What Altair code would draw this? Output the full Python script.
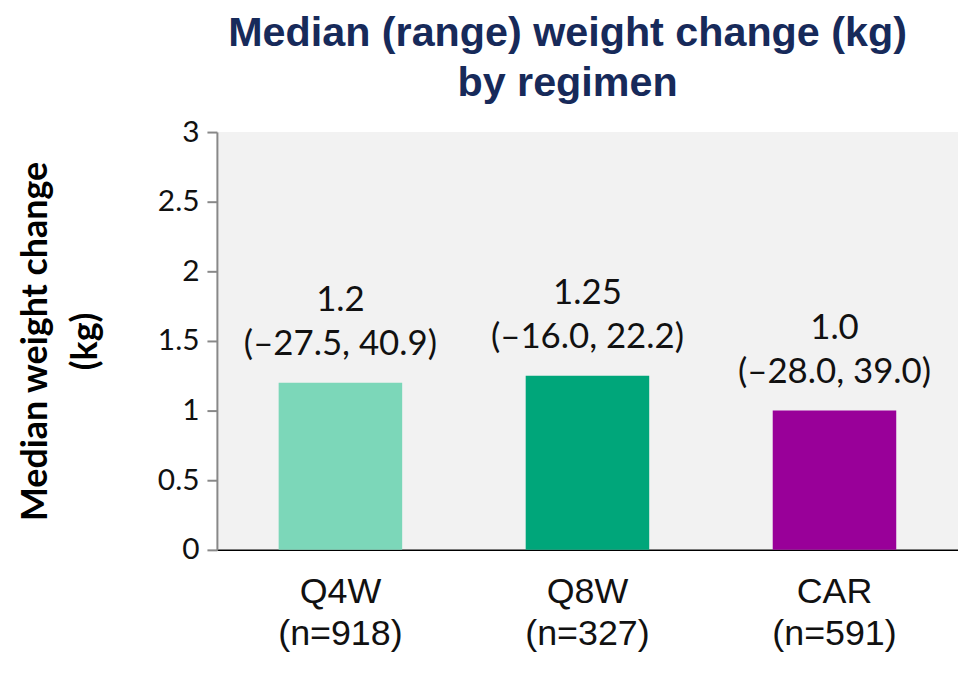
import altair as alt
import pandas as pd

regimens = ["Q4W", "Q8W", "CAR"]
x_labels = ["Q4W|(n=918)", "Q8W|(n=327)", "CAR|(n=591)"]
medians = [1.2, 1.25, 1.0]
median_text = ["1.2", "1.25", "1.0"]
range_text = ["(\u201327.5, 40.9)", "(\u201316.0, 22.2)", "(\u201328.0, 39.0)"]
colors = ["#7cd7b9", "#00a67a", "#990099"]
y_ticks = [0, 0.5, 1, 1.5, 2, 2.5, 3]

df = pd.DataFrame({
    "group": x_labels,
    "median": medians,
    "mtext": median_text,
    "rtext": range_text,
    "color": colors,
})

x = alt.X("group:N", sort=x_labels, title=None,
          scale=alt.Scale(paddingInner=0.5, paddingOuter=0.25),
          axis=alt.Axis(labelExpr="split(datum.label, '|')", labelAngle=0,
                        labelFont="Liberation Sans", labelFontSize=36,
                        labelColor="#111111", labelLineHeight=42,
                        labelPadding=25, ticks=False, domainColor="#000000",
                        domainWidth=1.5, labelBaseline="top"))
y = alt.Y("median:Q", title=["Median weight change", "(kg)"],
          scale=alt.Scale(domain=[0, 3], nice=False),
          axis=alt.Axis(values=y_ticks, labelExpr="datum.value", grid=False,
                        labelFont="Lato", labelFontSize=30, labelColor="#111111",
                        tickColor="#888888", tickSize=10, tickWidth=2,
                        domainColor="#888888", domainWidth=2, labelPadding=8,
                        titleFont="Lato", titleFontSize=36, titleFontWeight="bold",
                        titleColor="#000000", titleLineHeight=50, titlePadding=53))

bars = alt.Chart(df).mark_bar().encode(
    x=x, y=y,
    color=alt.Color("color:N", scale=None),
)

line2 = alt.Chart(df).mark_text(font="Lato", fontSize=35, color="#111111",
                                baseline="alphabetic", dy=-28).encode(
    x=alt.X("group:N", sort=x_labels), y="median:Q", text="rtext:N")
line1 = alt.Chart(df).mark_text(font="Lato", fontSize=35, color="#111111",
                                baseline="alphabetic", dy=-72).encode(
    x=alt.X("group:N", sort=x_labels), y="median:Q", text="mtext:N")

chart = alt.layer(bars, line2, line1).properties(
    width=745, height=420,
    padding={"left": 10, "top": 3, "right": 0, "bottom": 5},
    title=alt.TitleParams(["Median (range) weight change (kg)", "by regimen"],
                          font="Liberation Sans", fontSize=41.5, fontWeight="bold",
                          color="#172a5a", lineHeight=50, anchor="middle",
                          dx=-20, offset=13),
).configure_view(fill="#f2f2f2", stroke=None)

chart.save("out.html", embed_options={"renderer": "svg", "actions": False})
